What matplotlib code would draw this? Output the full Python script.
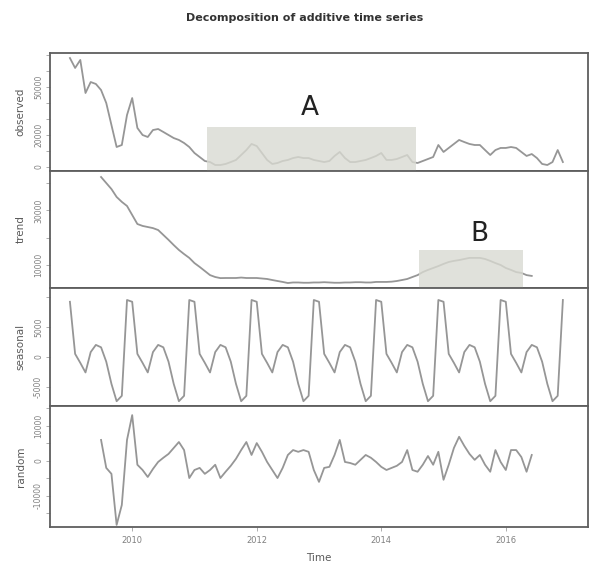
import numpy as np
import matplotlib
matplotlib.use("Agg")
import matplotlib.pyplot as plt
from matplotlib.patches import Rectangle

# monthly series, Jan 2009 .. Dec 2016
start_year = 2009
observed = [68100, 61900, 66900, 46250, 53100, 51900, 48100, 40000, 26250, 12500,
            13750, 32500, 43100, 24400, 20000, 18750, 23100, 23750, 21900, 20000,
            18100, 16900, 15000, 12500, 8750, 6250, 3750, 3100, 1250, 1250,
            1900, 3100, 4400, 7500, 10600, 14400, 13100, 8750, 4400, 1900,
            2500, 3750, 4400, 5600, 6250, 5600, 5600, 4400, 3750, 3100,
            3750, 6900, 9400, 5600, 3100, 3100, 3750, 4400, 5600, 6900,
            8750, 4400, 4400, 5000, 6250, 7500, 3100, 2500, 3750, 5000,
            6250, 13750, 9400, 11900, 14400, 16900, 15600, 14400, 13750, 13750,
            10600, 7500, 10600, 11900, 11900, 12500, 11900, 9400, 6900, 8100,
            5600, 1900, 1250, 3100, 10600, 3100]

# trend and random exist from month 7 to month 90 (12-month moving average)
trend = [42200, 40000, 37800, 34900, 33100, 31600, 28300, 25000, 24300, 23900,
         23500, 22800, 21000, 19200, 17300, 15500, 14000, 12600, 10700, 9300,
         7800, 6300, 5600, 5200, 5240, 5240, 5240, 5400, 5240, 5240,
         5240, 5060, 4880, 4500, 4140, 3800, 3400, 3600, 3600, 3500,
         3500, 3600, 3600, 3700, 3600, 3500, 3500, 3600, 3600, 3700,
         3700, 3600, 3600, 3800, 3800, 3800, 3900, 4140, 4500, 4880,
         5600, 6300, 7400, 8200, 8900, 9600, 10400, 11100, 11500, 11800,
         12200, 12600, 12600, 12600, 12200, 11500, 10700, 10000, 8900, 8200,
         7400, 7100, 6300, 6000]

random_part = [6000, -2000, -3700, -18300, -12600, 6000, 13100, -1100, -2600, -4600,
               -2300, -300, 900, 2000, 3700, 5400, 3100, -4900, -2600, -2000,
               -3700, -2600, -1100, -4900, -3100, -1400, 600, 3100, 5400, 1700,
               5100, 2600, -300, -2600, -4900, -2000, 1700, 3100, 2600, 3100,
               2600, -2600, -6000, -2000, -1700, 1700, 6000, -300, -600, -1100,
               300, 1700, 900, -300, -1700, -2600, -2000, -1400, -300, 3100,
               -2600, -3100, -1100, 1400, -1100, 2600, -5400, -1100, 3700, 6900,
               4300, 2000, 300, 1700, -1100, -3100, 3100, -300, -2600, 3100,
               3100, 1100, -3100, 1700]

# one year of the seasonal figure, Jan .. Dec
seasonal_year = [9200, 500, -1000, -2600, 800, 2000, 1600, -800, -4500, -7400, -6500, 9500]

n = len(observed)
time = start_year + np.arange(n) / 12.0
seasonal = np.tile(seasonal_year, n // 12)
trend_time = time[6:6 + len(trend)]

line_col = "#969696"
frame_col = "#5e5e5e"
shade_col = "#d9dad2"

fig = plt.figure(figsize=(5.91, 5.75), dpi=100)
W, H = 591.0, 575.0
left, right = 50 / W, 588 / W
edges = [53, 171, 288, 406, 527]

panels = [
    ("observed", time, observed, (-2500, 71250), [0, 20000, 50000], range(0, 70001, 10000)),
    ("trend", trend_time, trend, (1580, 44400), [10000, 30000], range(10000, 40001, 10000)),
    ("seasonal", time, seasonal, (-8200, 11500), [-5000, 0, 5000], range(-5000, 10001, 5000)),
    ("random", trend_time, random_part, (-18900, 15700), [-10000, 0, 10000], range(-15000, 15001, 5000)),
]

axes = []
for k, (name, x, y, ylim, labelled, ticks) in enumerate(panels):
    top, bot = edges[k], edges[k + 1]
    ax = fig.add_axes([left, 1 - bot / H, right - left, (bot - top) / H])
    ax.plot(x, y, color=line_col, lw=1.3)
    ax.set_xlim(2008.68, 2017.32)
    ax.set_ylim(*ylim)
    ax.set_yticks(list(ticks))
    ax.set_yticklabels([str(v) if v in labelled else "" for v in ticks],
                       rotation=90, va="center", fontsize=5.5, color="#808080")
    ax.set_ylabel(name, fontsize=7.5, color="#5a5a5a", labelpad=6)
    ax.tick_params(axis="y", length=3, width=0.6, color="#a0a0a0", pad=2)
    ax.set_xticks([2010, 2012, 2014, 2016])
    for s in ax.spines.values():
        s.set_color(frame_col)
        s.set_linewidth(1.3)
    if k < 3:
        ax.tick_params(axis="x", length=0, labelbottom=False)
    else:
        ax.tick_params(axis="x", length=3, width=0.6, color="#a0a0a0",
                       labelsize=6, labelcolor="#808080")
        ax.set_xlabel("Time", fontsize=7.5, color="#5a5a5a", labelpad=6)
    axes.append(ax)

# highlighted regions
ax1, ax2 = axes[0], axes[1]
ax1.add_patch(Rectangle((2011.2, -2500), 2014.56 - 2011.2, 25000 + 2500,
                        facecolor=shade_col, edgecolor="none", alpha=0.8, zorder=3))
ax1.text(2012.86, 37000, "A", fontsize=19, ha="center", va="center", color="#222222")
ax2.add_patch(Rectangle((2014.61, 1580), 2016.27 - 2014.61, 15500 - 1580,
                        facecolor=shade_col, edgecolor="none", alpha=0.8, zorder=3))
ax2.text(2015.58, 21300, "B", fontsize=19, ha="center", va="center", color="#222222")

fig.text(305 / W, 1 - 18 / H, "Decomposition of additive time series",
         fontsize=8, fontweight="bold", ha="center", va="center", color="#333333")

fig.savefig("out.png", dpi=100)
